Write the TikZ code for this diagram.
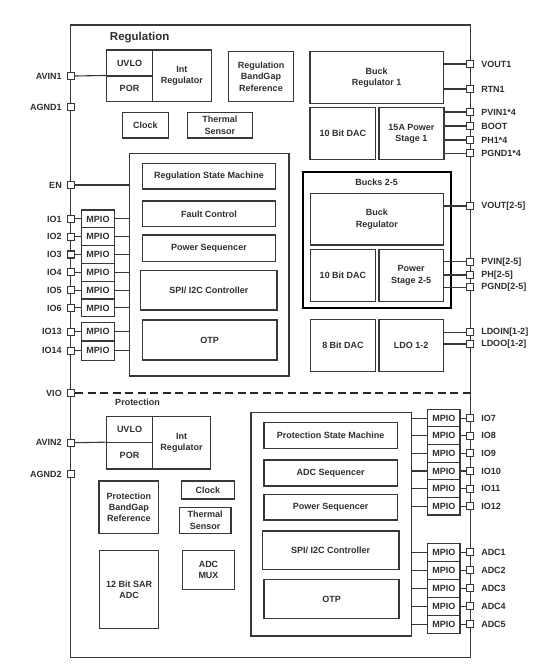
\documentclass[tikz,border=0pt]{standalone}
\usepackage{fontspec}
\setmainfont{Liberation Sans}
\begin{document}
\tikzset{
  ln/.style={draw=black!78, line width=1.1pt},
  txt/.style={font=\fontsize{9}{11.3}\selectfont\bfseries, text=black!82},
  box/.style={ln, txt, rectangle, inner sep=0pt, align=center},
  thickbox/.style={draw=black, line width=1.8pt},
  pinsq/.style={ln, fill=white, minimum size=7pt, inner sep=0pt, rectangle},
  lbl/.style={txt, inner sep=0pt, label distance=5pt},
  rlbl/.style={txt, inner sep=0pt, label distance=7pt},
  wire/.style={ln},
  dashwire/.style={draw=black!85, line width=1.5pt, dash pattern=on 8pt off 4.5pt},
  title/.style={txt, inner sep=0pt}
}
\newcommand\mybox[7][]{\node[box,#1,minimum width={(#5-#3)*1pt},minimum height={(#6-#4)*1pt}] (#2) at ({(#3+#5)/2},{(#4+#6)/2}) {#7};}
\newcommand\lpin[3]{\node[pinsq,label={[lbl]left:#3}] (#1) at (71,#2) {};}
\newcommand\rpin[3]{\node[pinsq,label={[rlbl]right:#3}] (#1) at (470,#2) {};}
\begin{tikzpicture}[x=1pt,y=-1pt]
\useasboundingbox (0,0) rectangle (541,665);
% chip frame
\mybox{chip}{70.7}{25}{470.5}{657.7}{}
% titles
\node[title, font=\fontsize{11.5}{13}\selectfont\bfseries] (tReg) at (139.7,37.7) {Regulation};
\node[title] (tProt) at (137.5,402.7) {Protection};
% ---- Regulation upper-left ----
\mybox{uvloA}{106.7}{50}{152.3}{76}{UVLO}
\mybox{porA}{106.7}{76}{152.3}{101.7}{POR}
\mybox{intA}{152.3}{50}{211.3}{101.7}{Int\\Regulator}
\mybox{bgA}{228.3}{51.7}{293.7}{101.7}{Regulation\\BandGap\\Reference}
\mybox{clkA}{122.3}{112.3}{168.3}{138}{Clock}
\mybox{thA}{187.3}{112.3}{252.3}{138}{Thermal\\Sensor}
% Regulation control block
\mybox{regbig}{129.3}{153.7}{289}{376}{}
\mybox{rsm}{142.3}{163.3}{275.7}{189}{Regulation State Machine}
\mybox{fault}{142.3}{201}{275.7}{226.7}{Fault Control}
\mybox{pseqA}{142.3}{235}{275.7}{261.7}{Power Sequencer}
\mybox{spiA}{140.7}{270.7}{277}{310}{SPI/ I2C Controller}
\mybox{otpA}{142.3}{320}{277}{360}{OTP}
% left MPIO
\mybox{mIOa}{81.7}{210}{114.3}{227.8}{MPIO}
\mybox{mIOb}{81.7}{227.8}{114.3}{245.6}{MPIO}
\mybox{mIOc}{81.7}{245.6}{114.3}{263.4}{MPIO}
\mybox{mIOd}{81.7}{263.4}{114.3}{281.2}{MPIO}
\mybox{mIOe}{81.7}{281.2}{114.3}{299}{MPIO}
\mybox{mIOf}{81.7}{299}{114.3}{316.8}{MPIO}
\mybox{mIOm}{81.7}{322.3}{114.3}{341}{MPIO}
\mybox{mIOn}{81.7}{341}{114.3}{360.3}{MPIO}
% ---- Bucks ----
\mybox{buck1}{310}{51.7}{443.3}{103.3}{Buck\\Regulator 1}
\mybox{dac1}{310}{107.7}{375.7}{159.7}{10 Bit DAC}
\mybox{ps1}{379}{107.7}{444}{159.7}{15A Power\\Stage 1}
\mybox[thickbox]{bucks}{303.3}{171.7}{451.3}{308.3}{}
\node[title] (tBucks) at (376.7,182.7) {Bucks 2-5};
\mybox{buckN}{310.3}{193.3}{443.3}{245}{Buck\\Regulator}
\mybox{dacN}{310.3}{249.3}{375.7}{301.7}{10 Bit DAC}
\mybox{psN}{379}{249.3}{443.3}{301.7}{Power\\Stage 2-5}
\mybox{dac8}{310.3}{319.3}{375.7}{371.7}{8 Bit DAC}
\mybox{ldo}{379}{319.3}{443.3}{371.7}{LDO 1-2}
% ---- Protection ----
\mybox{uvloB}{106.7}{416.7}{152.3}{442.7}{UVLO}
\mybox{porB}{106.7}{442.7}{152.3}{469}{POR}
\mybox{intB}{152.3}{416.7}{210.7}{469}{Int\\Regulator}
\mybox{bgB}{99}{481}{158.7}{533.3}{Protection\\BandGap\\Reference}
\mybox{clkB}{181.3}{481}{234.3}{499}{Clock}
\mybox{thB}{179.3}{507.3}{231}{533.3}{Thermal\\Sensor}
\mybox{sar}{99.7}{550.7}{158.7}{628.7}{12 Bit SAR\\ADC}
\mybox{mux}{182.3}{550.7}{234.7}{589.3}{ADC\\MUX}
\mybox{protbig}{251}{412.7}{411.3}{636}{}
\mybox{psm}{264}{422.3}{397.3}{448.3}{Protection State Machine}
\mybox{adcseq}{264}{460}{397.3}{486}{ADC Sequencer}
\mybox{pseqB}{264}{494.3}{397.3}{520}{Power Sequencer}
\mybox{spiB}{262.3}{531}{399}{569.3}{SPI/ I2C Controller}
\mybox{otpB}{264}{579.3}{399}{618.7}{OTP}
% right MPIO
\mybox{mIOg}{427.7}{409.3}{460}{426.9}{MPIO}
\mybox{mIOh}{427.7}{426.9}{460}{444.5}{MPIO}
\mybox{mIOi}{427.7}{444.5}{460}{462.1}{MPIO}
\mybox{mIOj}{427.7}{462.1}{460}{479.8}{MPIO}
\mybox{mIOk}{427.7}{479.8}{460}{497.4}{MPIO}
\mybox{mIOl}{427.7}{497.4}{460}{515}{MPIO}
\mybox{mADa}{427.7}{543.3}{460}{561.3}{MPIO}
\mybox{mADb}{427.7}{561.3}{460}{579.3}{MPIO}
\mybox{mADc}{427.7}{579.3}{460}{597.3}{MPIO}
\mybox{mADd}{427.7}{597.3}{460}{615.3}{MPIO}
\mybox{mADe}{427.7}{615.3}{460}{633.3}{MPIO}
% ---- pins left ----
\lpin{pAVINa}{76}{AVIN1}
\lpin{pAGNDa}{107}{AGND1}
\lpin{pEN}{185}{EN}
\lpin{pIOa}{218.9}{IO1}
\lpin{pIOb}{236.7}{IO2}
\lpin{pIOc}{254.5}{IO3}
\lpin{pIOd}{272.3}{IO4}
\lpin{pIOe}{290.1}{IO5}
\lpin{pIOf}{307.9}{IO6}
\lpin{pIOm}{331.7}{IO13}
\lpin{pIOn}{350.7}{IO14}
\lpin{pVIO}{393}{VIO}
\lpin{pAVINb}{442.7}{AVIN2}
\lpin{pAGNDb}{474}{AGND2}
% ---- pins right ----
\rpin{pVOUTa}{64}{VOUT1}
\rpin{pRTN}{89}{RTN1}
\rpin{pPVINa}{112}{PVIN1*4}
\rpin{pBOOT}{126}{BOOT}
\rpin{pPHa}{140}{PH1*4}
\rpin{pPGNDa}{153.3}{PGND1*4}
\rpin{pVOUTn}{206}{VOUT[2-5]}
\rpin{pPVINn}{261.7}{PVIN[2-5]}
\rpin{pPHn}{275}{PH[2-5]}
\rpin{pPGNDn}{287.3}{PGND[2-5]}
\rpin{pLDOIN}{332.3}{LDOIN[1-2]}
\rpin{pLDOO}{344}{LDOO[1-2]}
\rpin{pIOg}{418.1}{IO7}
\rpin{pIOh}{435.7}{IO8}
\rpin{pIOi}{453.3}{IO9}
\rpin{pIOj}{471}{IO10}
\rpin{pIOk}{488.6}{IO11}
\rpin{pIOl}{506.2}{IO12}
\rpin{pADa}{552.3}{ADC1}
\rpin{pADb}{570.3}{ADC2}
\rpin{pADc}{588.3}{ADC3}
\rpin{pADd}{606.3}{ADC4}
\rpin{pADe}{624.3}{ADC5}
% ---- connectors ----
\draw[wire] (pAVINa.east) -- (porA.north west);
\draw[wire] (pAVINb.east) -- (porB.north west);
\draw[wire] (pEN.east) -- (pEN.east -| regbig.west);
\foreach \s in {a,b,c,d,e,f,m,n}{
  \draw[wire] (pIO\s.east) -- (mIO\s.west |- pIO\s.east);
  \draw[wire] (mIO\s.east |- pIO\s.east) -- (pIO\s.east -| regbig.west);
}
\foreach \s in {g,h,i,j,k,l}{
  \draw[wire] (pIO\s.west) -- (mIO\s.east |- pIO\s.west);
  \draw[wire] (mIO\s.west |- pIO\s.west) -- (pIO\s.west -| protbig.east);
}
\foreach \s in {a,b,c,d,e}{
  \draw[wire] (pAD\s.west) -- (mAD\s.east |- pAD\s.west);
  \draw[wire] (mAD\s.west |- pAD\s.west) -- (pAD\s.west -| protbig.east);
}
\draw[wire] (pVOUTa.west) -- (pVOUTa.west -| buck1.east);
\draw[wire] (pRTN.west) -- (pRTN.west -| buck1.east);
\foreach \p in {pPVINa,pBOOT,pPHa,pPGNDa}{
  \draw[wire] (\p.west) -- (\p.west -| ps1.east);
}
\draw[wire] (pVOUTn.west) -- (pVOUTn.west -| buckN.east);
\foreach \p in {pPVINn,pPHn,pPGNDn}{
  \draw[wire] (\p.west) -- (\p.west -| psN.east);
}
\draw[wire] (pLDOIN.west) -- (pLDOIN.west -| ldo.east);
\draw[wire] (pLDOO.west) -- (pLDOO.west -| ldo.east);
\draw[dashwire] (pVIO.east) -- (pVIO.east -| chip.east);
\end{tikzpicture}
\end{document}
